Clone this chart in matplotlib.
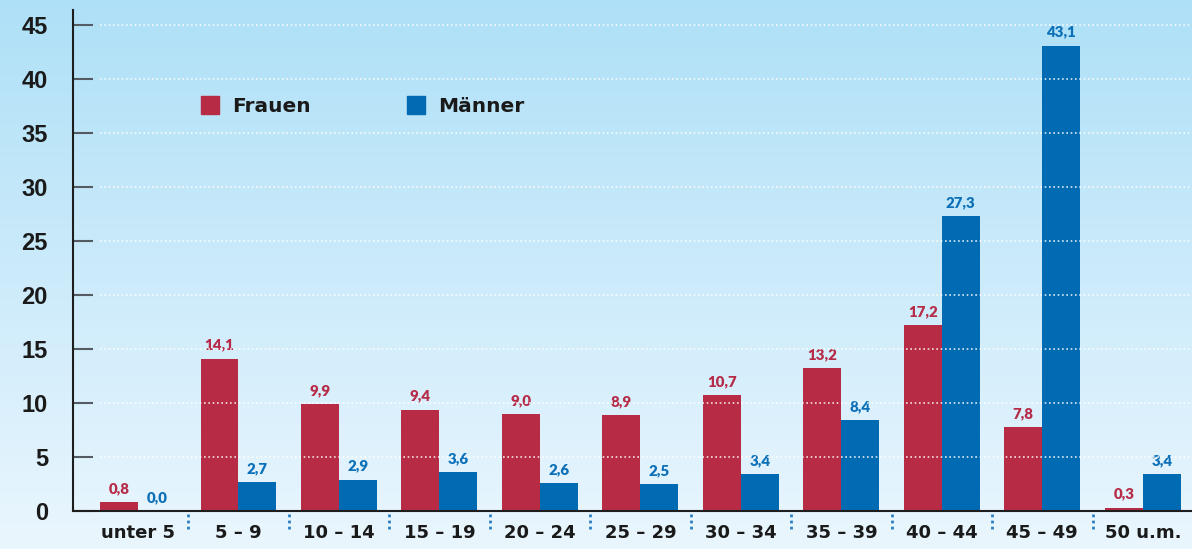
import numpy as np
import matplotlib
matplotlib.use("Agg")
import matplotlib.pyplot as plt
from matplotlib.lines import Line2D
import matplotlib.transforms as mtransforms

# data
groups = ["unter 5", "5 – 9", "10 – 14", "15 – 19", "20 – 24", "25 – 29",
          "30 – 34", "35 – 39", "40 – 44", "45 – 49", "50 u.m."]
frauen = [0.8, 14.1, 9.9, 9.4, 9.0, 8.9, 10.7, 13.2, 17.2, 7.8, 0.3]
maenner = [0.0, 2.7, 2.9, 3.6, 2.6, 2.5, 3.4, 8.4, 27.3, 43.1, 3.4]
yticks = [0, 5, 10, 15, 20, 25, 30, 35, 40, 45]

RED = "#b72b44"
BLUE = "#006ab3"
RED_TXT = "#b62b47"
BLUE_TXT = "#0b70b8"
TXT = "#1a1a1a"

fig = plt.figure(figsize=(11.92, 5.49), dpi=100)

# background gradient over whole figure
bg = fig.add_axes([0, 0, 1, 1], zorder=-10)
top = np.array([174, 224, 247]) / 255
bot = np.array([234, 246, 254]) / 255
t = np.linspace(0, 1, 256)[:, None]
grad = top[None, :] * (1 - t) + bot[None, :] * t
bg.imshow(grad[:, None, :], aspect="auto", extent=[0, 1, 0, 1])
bg.axis("off")

ax = fig.add_axes([73 / 1192, 38 / 549, 1 - 73 / 1192, (511 - 10) / 549])
ax.patch.set_alpha(0)

x = np.arange(len(groups))
w = 0.378
ax.bar(x - w / 2, frauen, w, color=RED, zorder=2)
ax.bar(x + w / 2, maenner, w, color=BLUE, zorder=2)

# value labels
for xi, v in zip(x, frauen):
    ax.annotate(f"{v:.1f}".replace(".", ","), (xi - w / 2, v), xytext=(0, 6.5),
                textcoords="offset points", ha="center", va="baseline",
                color=RED_TXT, fontsize=10.8, fontweight="heavy", family="Lato")
for xi, v in zip(x, maenner):
    ax.annotate(f"{v:.1f}".replace(".", ","), (xi + w / 2, v), xytext=(0, 6.5),
                textcoords="offset points", ha="center", va="baseline",
                color=BLUE_TXT, fontsize=10.8, fontweight="heavy", family="Lato")

ax.set_xlim(-0.647, 10.49)
ax.set_ylim(0, 46.4)

# gridlines (white dotted, over the bars)
for yv in yticks[1:]:
    ax.axhline(yv, xmin=0.024, xmax=1, color="white", lw=1.2,
               ls=(0, (1, 1.6)), alpha=0.85, zorder=3)

for s in ["top", "right"]:
    ax.spines[s].set_visible(False)
ax.spines["left"].set_color("#1e1e1e")
ax.spines["bottom"].set_color("#1e1e1e")
ax.spines["left"].set_linewidth(1.5)
ax.spines["bottom"].set_linewidth(1.5)

ax.set_yticks(yticks)
ax.set_yticklabels([str(v) for v in yticks], fontsize=17, fontweight="bold",
                   family="Liberation Sans", color=TXT)
ax.tick_params(axis="y", direction="in", length=14.5, width=1.5,
               color="#545b62", pad=18)

ax.set_xticks(x)
ax.set_xticklabels(groups, fontsize=13, fontweight="bold",
                   family="DejaVu Sans", color=TXT)
ax.tick_params(axis="x", length=0, pad=9)

# dotted separators below the axis
trans = mtransforms.blended_transform_factory(ax.transData, ax.transAxes)
for xs in x[:-1] + 0.5:
    ax.plot([xs, xs], [-0.005, -0.04], transform=trans, color="#2a7fc2",
            lw=2, ls=(0, (1, 1.2)), clip_on=False, zorder=4)

# legend
handles = [Line2D([], [], ls="", marker="s", markersize=13, color=RED),
           Line2D([], [], ls="", marker="s", markersize=13, color=BLUE)]
leg = fig.legend(handles, ["Frauen", "Männer"], loc="center left",
                 bbox_to_anchor=(190 / 1192, (549 - 107) / 549),
                 bbox_transform=fig.transFigure, ncol=2, frameon=False,
                 borderpad=0, handlelength=1.0, handletextpad=0.6,
                 columnspacing=4.7,
                 prop={"family": "DejaVu Sans", "weight": "bold", "size": 14.5})
for txt in leg.get_texts():
    txt.set_color(TXT)

fig.savefig("out.png", dpi=100)
